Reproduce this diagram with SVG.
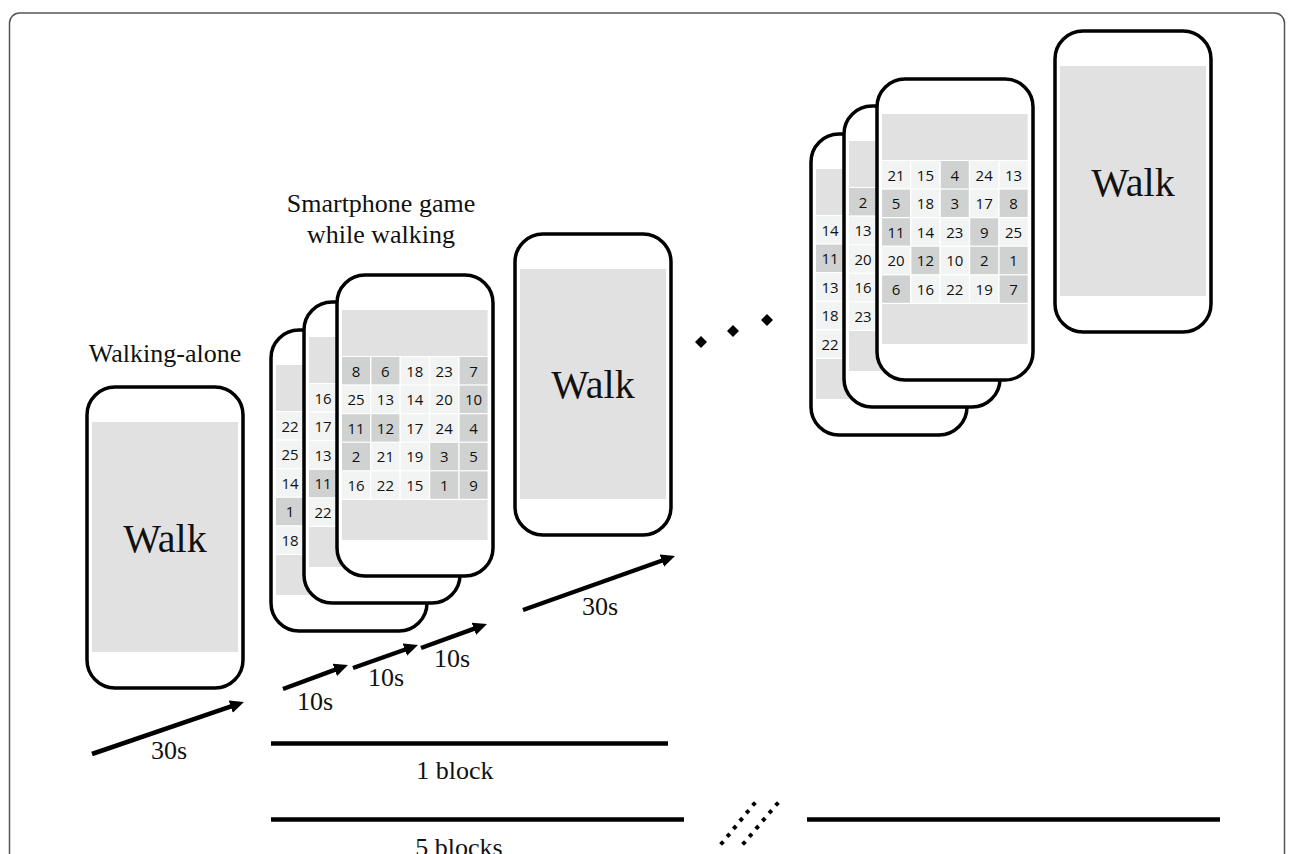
<svg xmlns="http://www.w3.org/2000/svg" xmlns:xlink="http://www.w3.org/1999/xlink" width="1295" height="854" viewBox="0 0 1295 854">
<style>
.shell{fill:#fff;stroke:#000;stroke-width:3.5}
.band{fill:#e1e1e1}
.lt{fill:#f2f4f3}
.dk{fill:#d0d1d1}
.num{font-family:"Open Sans","Noto Sans",sans-serif;font-size:15px;fill:#111;text-anchor:middle}
.walk{font-family:"Liberation Serif","Times New Roman",serif;font-size:40px;fill:#111;text-anchor:middle}
.lbl{font-family:"Liberation Serif","Times New Roman",serif;font-size:26px;fill:#111;text-anchor:middle}
.arr{stroke:#000;stroke-width:4.5;fill:none}
.bar{stroke:#000;stroke-width:4.5}
</style>
<defs>
<rect id="shellR" class="shell" x="0" y="0" width="156" height="301" rx="28"/>
<marker id="ah" markerUnits="userSpaceOnUse" markerWidth="16" markerHeight="14" refX="2" refY="6.5" orient="auto"><path d="M0,0 L14,6.5 L0,13 z" fill="#000"/></marker>
<path id="dm" d="M0,-6 L6,0 L0,6 L-6,0 z" fill="#000"/>
<path id="dt" d="M0,-2.8 L2.8,0 L0,2.8 L-2.8,0 z" fill="#000"/>
</defs>
<rect x="9.5" y="13" width="1275" height="900" rx="10" fill="none" stroke="#555" stroke-width="1.5"/>

<text class="lbl" x="165" y="362">Walking-alone</text>
<text class="lbl" x="381" y="212">Smartphone game</text>
<text class="lbl" x="381" y="243">while walking</text>

<g id="walk-alone" transform="translate(87,387)">
<use xlink:href="#shellR"/>
<rect class="band" x="5" y="35" width="146" height="230"/>
<text class="walk" x="78" y="165">Walk</text>
</g>

<g id="game-back" transform="translate(271,330)">
<use xlink:href="#shellR"/>
<rect class="band" x="5" y="35" width="145.6" height="46"/>
<rect class="band" x="5" y="225" width="145.6" height="40"/>
<rect class="lt" x="5" y="82" width="28" height="27.4"/><text class="num" x="19" y="101.5">22</text>
<rect class="lt" x="5" y="110.6" width="28" height="27.4"/><text class="num" x="19" y="130.1">25</text>
<rect class="lt" x="5" y="139.2" width="28" height="27.4"/><text class="num" x="19" y="158.7">14</text>
<rect class="dk" x="5" y="167.8" width="28" height="27.4"/><text class="num" x="19" y="187.3">1</text>
<rect class="lt" x="5" y="196.4" width="28" height="27.4"/><text class="num" x="19" y="215.9">18</text>
</g>

<g id="game-middle" transform="translate(304,302)">
<use xlink:href="#shellR"/>
<rect class="band" x="5" y="35" width="145.6" height="46"/>
<rect class="band" x="5" y="225" width="145.6" height="40"/>
<rect class="lt" x="5" y="82" width="28" height="27.4"/><text class="num" x="19" y="101.5">16</text>
<rect class="lt" x="5" y="110.6" width="28" height="27.4"/><text class="num" x="19" y="130.1">17</text>
<rect class="lt" x="5" y="139.2" width="28" height="27.4"/><text class="num" x="19" y="158.7">13</text>
<rect class="dk" x="5" y="167.8" width="28" height="27.4"/><text class="num" x="19" y="187.3">11</text>
<rect class="lt" x="5" y="196.4" width="28" height="27.4"/><text class="num" x="19" y="215.9">22</text>
</g>

<g id="game-front" transform="translate(337,275)">
<use xlink:href="#shellR"/>
<rect class="band" x="5" y="35" width="145.6" height="46"/>
<rect class="band" x="5" y="225" width="145.6" height="40"/>
<rect class="dk" x="5" y="82" width="28" height="27.4"/><text class="num" x="19" y="101.5">8</text>
<rect class="dk" x="34.4" y="82" width="28" height="27.4"/><text class="num" x="48.4" y="101.5">6</text>
<rect class="lt" x="63.8" y="82" width="28" height="27.4"/><text class="num" x="77.8" y="101.5">18</text>
<rect class="lt" x="93.2" y="82" width="28" height="27.4"/><text class="num" x="107.2" y="101.5">23</text>
<rect class="dk" x="122.6" y="82" width="28" height="27.4"/><text class="num" x="136.6" y="101.5">7</text>
<rect class="lt" x="5" y="110.6" width="28" height="27.4"/><text class="num" x="19" y="130.1">25</text>
<rect class="lt" x="34.4" y="110.6" width="28" height="27.4"/><text class="num" x="48.4" y="130.1">13</text>
<rect class="lt" x="63.8" y="110.6" width="28" height="27.4"/><text class="num" x="77.8" y="130.1">14</text>
<rect class="lt" x="93.2" y="110.6" width="28" height="27.4"/><text class="num" x="107.2" y="130.1">20</text>
<rect class="dk" x="122.6" y="110.6" width="28" height="27.4"/><text class="num" x="136.6" y="130.1">10</text>
<rect class="dk" x="5" y="139.2" width="28" height="27.4"/><text class="num" x="19" y="158.7">11</text>
<rect class="dk" x="34.4" y="139.2" width="28" height="27.4"/><text class="num" x="48.4" y="158.7">12</text>
<rect class="lt" x="63.8" y="139.2" width="28" height="27.4"/><text class="num" x="77.8" y="158.7">17</text>
<rect class="lt" x="93.2" y="139.2" width="28" height="27.4"/><text class="num" x="107.2" y="158.7">24</text>
<rect class="dk" x="122.6" y="139.2" width="28" height="27.4"/><text class="num" x="136.6" y="158.7">4</text>
<rect class="dk" x="5" y="167.8" width="28" height="27.4"/><text class="num" x="19" y="187.3">2</text>
<rect class="lt" x="34.4" y="167.8" width="28" height="27.4"/><text class="num" x="48.4" y="187.3">21</text>
<rect class="lt" x="63.8" y="167.8" width="28" height="27.4"/><text class="num" x="77.8" y="187.3">19</text>
<rect class="dk" x="93.2" y="167.8" width="28" height="27.4"/><text class="num" x="107.2" y="187.3">3</text>
<rect class="dk" x="122.6" y="167.8" width="28" height="27.4"/><text class="num" x="136.6" y="187.3">5</text>
<rect class="lt" x="5" y="196.4" width="28" height="27.4"/><text class="num" x="19" y="215.9">16</text>
<rect class="lt" x="34.4" y="196.4" width="28" height="27.4"/><text class="num" x="48.4" y="215.9">22</text>
<rect class="lt" x="63.8" y="196.4" width="28" height="27.4"/><text class="num" x="77.8" y="215.9">15</text>
<rect class="dk" x="93.2" y="196.4" width="28" height="27.4"/><text class="num" x="107.2" y="215.9">1</text>
<rect class="dk" x="122.6" y="196.4" width="28" height="27.4"/><text class="num" x="136.6" y="215.9">9</text>
</g>

<g id="walk-2" transform="translate(515,234)">
<use xlink:href="#shellR"/>
<rect class="band" x="5" y="35" width="146" height="230"/>
<text class="walk" x="78" y="164">Walk</text>
</g>

<g id="ellipsis">
<use xlink:href="#dm" x="701" y="342"/>
<use xlink:href="#dm" x="733" y="331"/>
<use xlink:href="#dm" x="767" y="320"/>
</g>

<g id="game-back-2" transform="translate(811,134)">
<use xlink:href="#shellR"/>
<rect class="band" x="5" y="35" width="145.6" height="46"/>
<rect class="band" x="5" y="225" width="145.6" height="40"/>
<rect class="lt" x="5" y="82" width="28" height="27.4"/><text class="num" x="19" y="101.5">14</text>
<rect class="dk" x="5" y="110.6" width="28" height="27.4"/><text class="num" x="19" y="130.1">11</text>
<rect class="lt" x="5" y="139.2" width="28" height="27.4"/><text class="num" x="19" y="158.7">13</text>
<rect class="lt" x="5" y="167.8" width="28" height="27.4"/><text class="num" x="19" y="187.3">18</text>
<rect class="lt" x="5" y="196.4" width="28" height="27.4"/><text class="num" x="19" y="215.9">22</text>
</g>

<g id="game-middle-2" transform="translate(844,106)">
<use xlink:href="#shellR"/>
<rect class="band" x="5" y="35" width="145.6" height="46"/>
<rect class="band" x="5" y="225" width="145.6" height="40"/>
<rect class="dk" x="5" y="82" width="28" height="27.4"/><text class="num" x="19" y="101.5">2</text>
<rect class="lt" x="5" y="110.6" width="28" height="27.4"/><text class="num" x="19" y="130.1">13</text>
<rect class="lt" x="5" y="139.2" width="28" height="27.4"/><text class="num" x="19" y="158.7">20</text>
<rect class="lt" x="5" y="167.8" width="28" height="27.4"/><text class="num" x="19" y="187.3">16</text>
<rect class="lt" x="5" y="196.4" width="28" height="27.4"/><text class="num" x="19" y="215.9">23</text>
</g>

<g id="game-front-2" transform="translate(877,79)">
<use xlink:href="#shellR"/>
<rect class="band" x="5" y="35" width="145.6" height="46"/>
<rect class="band" x="5" y="225" width="145.6" height="40"/>
<rect class="lt" x="5" y="82" width="28" height="27.4"/><text class="num" x="19" y="101.5">21</text>
<rect class="lt" x="34.4" y="82" width="28" height="27.4"/><text class="num" x="48.4" y="101.5">15</text>
<rect class="dk" x="63.8" y="82" width="28" height="27.4"/><text class="num" x="77.8" y="101.5">4</text>
<rect class="lt" x="93.2" y="82" width="28" height="27.4"/><text class="num" x="107.2" y="101.5">24</text>
<rect class="lt" x="122.6" y="82" width="28" height="27.4"/><text class="num" x="136.6" y="101.5">13</text>
<rect class="dk" x="5" y="110.6" width="28" height="27.4"/><text class="num" x="19" y="130.1">5</text>
<rect class="lt" x="34.4" y="110.6" width="28" height="27.4"/><text class="num" x="48.4" y="130.1">18</text>
<rect class="dk" x="63.8" y="110.6" width="28" height="27.4"/><text class="num" x="77.8" y="130.1">3</text>
<rect class="lt" x="93.2" y="110.6" width="28" height="27.4"/><text class="num" x="107.2" y="130.1">17</text>
<rect class="dk" x="122.6" y="110.6" width="28" height="27.4"/><text class="num" x="136.6" y="130.1">8</text>
<rect class="dk" x="5" y="139.2" width="28" height="27.4"/><text class="num" x="19" y="158.7">11</text>
<rect class="lt" x="34.4" y="139.2" width="28" height="27.4"/><text class="num" x="48.4" y="158.7">14</text>
<rect class="lt" x="63.8" y="139.2" width="28" height="27.4"/><text class="num" x="77.8" y="158.7">23</text>
<rect class="dk" x="93.2" y="139.2" width="28" height="27.4"/><text class="num" x="107.2" y="158.7">9</text>
<rect class="lt" x="122.6" y="139.2" width="28" height="27.4"/><text class="num" x="136.6" y="158.7">25</text>
<rect class="lt" x="5" y="167.8" width="28" height="27.4"/><text class="num" x="19" y="187.3">20</text>
<rect class="dk" x="34.4" y="167.8" width="28" height="27.4"/><text class="num" x="48.4" y="187.3">12</text>
<rect class="lt" x="63.8" y="167.8" width="28" height="27.4"/><text class="num" x="77.8" y="187.3">10</text>
<rect class="dk" x="93.2" y="167.8" width="28" height="27.4"/><text class="num" x="107.2" y="187.3">2</text>
<rect class="dk" x="122.6" y="167.8" width="28" height="27.4"/><text class="num" x="136.6" y="187.3">1</text>
<rect class="dk" x="5" y="196.4" width="28" height="27.4"/><text class="num" x="19" y="215.9">6</text>
<rect class="lt" x="34.4" y="196.4" width="28" height="27.4"/><text class="num" x="48.4" y="215.9">16</text>
<rect class="lt" x="63.8" y="196.4" width="28" height="27.4"/><text class="num" x="77.8" y="215.9">22</text>
<rect class="lt" x="93.2" y="196.4" width="28" height="27.4"/><text class="num" x="107.2" y="215.9">19</text>
<rect class="dk" x="122.6" y="196.4" width="28" height="27.4"/><text class="num" x="136.6" y="215.9">7</text>
</g>

<g id="walk-3" transform="translate(1055,31)">
<use xlink:href="#shellR"/>
<rect class="band" x="5" y="35" width="146" height="230"/>
<text class="walk" x="78" y="165">Walk</text>
</g>

<g id="connectors">
<line class="arr" x1="92" y1="754" x2="232.6" y2="705.9" marker-end="url(#ah)"/>
<line class="arr" x1="283" y1="689" x2="336.7" y2="669.2" marker-end="url(#ah)"/>
<line class="arr" x1="353" y1="668" x2="406.7" y2="649" marker-end="url(#ah)"/>
<line class="arr" x1="421" y1="648" x2="475.7" y2="628.1" marker-end="url(#ah)"/>
<line class="arr" x1="523" y1="610" x2="663.7" y2="560" marker-end="url(#ah)"/>
<line class="bar" x1="271" y1="743.5" x2="668" y2="743.5"/>
<line class="bar" x1="271" y1="819.5" x2="684" y2="819.5"/>
<line class="bar" x1="807" y1="819.5" x2="1220" y2="819.5"/>
<g id="break-mark">
<use xlink:href="#dt" x="722" y="843"/>
<use xlink:href="#dt" x="728.4" y="835.2"/>
<use xlink:href="#dt" x="734.8" y="827.4"/>
<use xlink:href="#dt" x="741.2" y="819.6"/>
<use xlink:href="#dt" x="747.6" y="811.8"/>
<use xlink:href="#dt" x="754" y="804"/>
<use xlink:href="#dt" x="744" y="843"/>
<use xlink:href="#dt" x="750.6" y="835.2"/>
<use xlink:href="#dt" x="757.2" y="827.4"/>
<use xlink:href="#dt" x="763.8" y="819.6"/>
<use xlink:href="#dt" x="770.4" y="811.8"/>
<use xlink:href="#dt" x="777" y="804"/>
</g>
</g>

<text class="lbl" x="169" y="759">30s</text>
<text class="lbl" x="315" y="710">10s</text>
<text class="lbl" x="386" y="686">10s</text>
<text class="lbl" x="452" y="667">10s</text>
<text class="lbl" x="600" y="615">30s</text>
<text class="lbl" x="455" y="779">1 block</text>
<text class="lbl" x="459" y="856">5 blocks</text>
</svg>
